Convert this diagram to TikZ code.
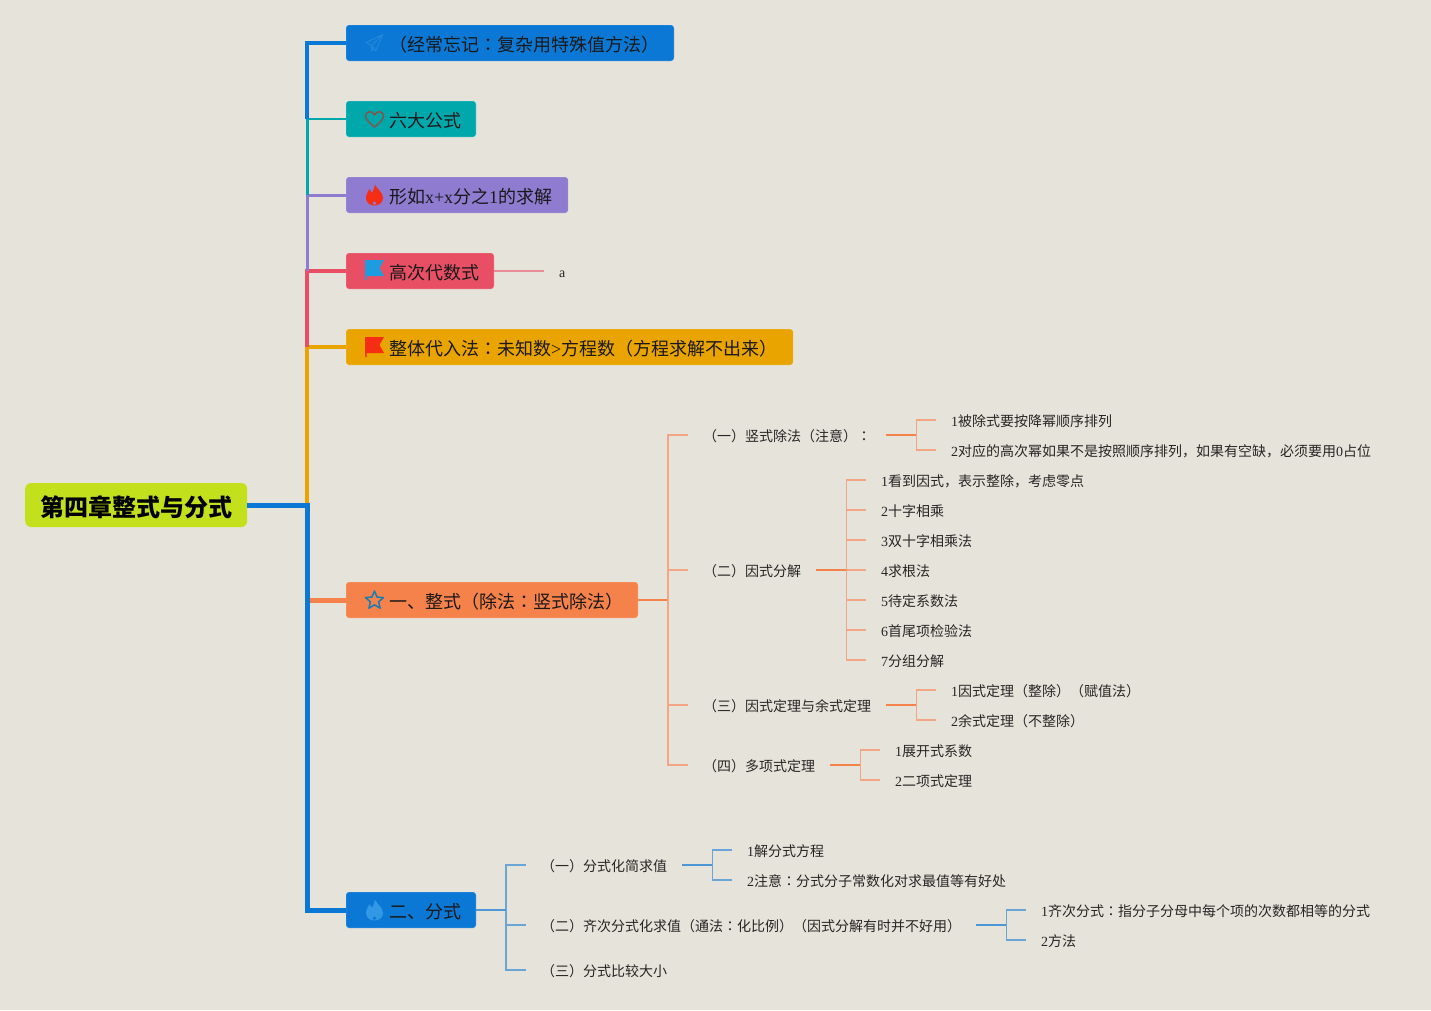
\documentclass[tikz,border=0pt]{standalone}
\usepackage{fontspec}
\setmainfont{Liberation Serif}
\newfontfamily\cjk{Noto Sans CJK SC}
\newfontfamily\cjkjp{Noto Sans CJK JP}
\usetikzlibrary{positioning, calc}
\definecolor{pagebg}{RGB}{230, 227, 218}
\definecolor{keylime}{RGB}{194, 224, 28}
\definecolor{keyblue}{RGB}{10, 120, 212}
\definecolor{keyteal}{RGB}{0, 168, 172}
\definecolor{keypurple}{RGB}{143, 123, 208}
\definecolor{keyred}{RGB}{232, 79, 101}
\definecolor{keyyellow}{RGB}{233, 164, 0}
\definecolor{keyorange}{RGB}{246, 130, 75}
\definecolor{twigorange}{RGB}{244, 165, 131}
\definecolor{twigblue}{RGB}{106, 165, 217}
\definecolor{twigred}{RGB}{232, 140, 150}
\definecolor{iconred}{RGB}{245, 45, 20}
\definecolor{iconblue}{RGB}{29, 156, 224}
\definecolor{iconpale}{RGB}{35, 135, 220}
\definecolor{iconsoft}{RGB}{50, 152, 230}
\definecolor{iconbrown}{RGB}{125, 90, 80}
\newcommand{\en}[1]{{\rmfamily #1}}
\newcommand{\zc}{{\cjkjp ：}}
\tikzset{
  planeicon/.pic={
    \draw[pic actions, line width=1pt, line join=round]
      (8.5,-8.5) -- (-8.5,-0.5) -- (-3,2.5) -- (8.5,-8.5) -- (1,8) -- (-3,2.5) -- (-3,8) -- (0,4.5);
  },
  hearticon/.pic={
    \draw[pic actions, line width=1.6pt]
      (0,8) .. controls (-4,4.5) and (-9,1) .. (-9,-3) .. controls (-9,-8) and (-2,-9) .. (0,-4)
      .. controls (2,-9) and (9,-8) .. (9,-3) .. controls (9,1) and (4,4.5) .. (0,8) -- cycle;
  },
  flameicon/.pic={
    \fill[pic actions, even odd rule]
      (0.5,-10.5) .. controls (2,-6) and (8.5,-3) .. (8.5,3) .. controls (8.5,7.5) and (4.5,10.5) .. (0,10.5)
      .. controls (-4.5,10.5) and (-8.5,7.5) .. (-8.5,3) .. controls (-8.5,-1) and (-6,-3) .. (-5,-6)
      .. controls (-3.5,-4.5) and (-3,-3.5) .. (-2.5,-2) .. controls (-1,-4.5) and (0,-7.5) .. (0.5,-10.5) -- cycle
      (0,6) .. controls (-1,7.5) and (-2.5,8) .. (-2,9) .. controls (-1.5,10) and (1.5,10) .. (2,9)
      .. controls (2.5,8) and (1,7.5) .. (0,6) -- cycle;
  },
  flagicon/.pic={
    \fill[pic actions]
      (-9.5,-10) -- (9.5,-10) -- (5,-2) -- (9.5,6) -- (-8,6) -- (-8,10) -- (-9.5,10) -- cycle;
  },
  staricon/.pic={
    \draw[pic actions, line width=1.5pt, line join=round]
      (-90:9.5) -- (-54:4.3) -- (-18:9.5) -- (18:4.3) -- (54:9.5) -- (90:4.3)
      -- (126:9.5) -- (162:4.3) -- (198:9.5) -- (234:4.3) -- cycle;
  }
}
\begin{document}
\begin{tikzpicture}[x=1pt, y=-1pt,
    topic/.style={anchor=west, rounded corners=3pt, inner xsep=15pt, inner ysep=0pt, minimum height=36pt,
      draw=white, draw opacity=.2, line width=.6pt, outer sep=0pt,
      text height=17pt, text depth=1pt, text=black!90, font=\cjk\fontsize{18}{18}\selectfont},
    leaf/.style={anchor=west, inner xsep=15pt, inner ysep=0pt, text height=13pt, text depth=1pt,
      text=black!85, font=\cjk\fontsize{14}{14}\selectfont},
    trunk/.style={line width=4pt},
    stem/.style={line width=1.5pt},
    twig/.style={line width=1.2pt}]
  \fill[pagebg] (0,0) rectangle (1431,1010);
  % Root and first level
  \node[anchor=west, fill=keylime, rounded corners=6pt, inner xsep=15pt, inner ysep=0pt, minimum height=44pt,
        text height=23pt, text depth=1pt, font=\fontsize{24}{24}\selectfont\cjk\bfseries] (root) at (25,505) {第四章整式与分式};
  \node[topic, fill=keyblue] (wangji) at (346,43) {\hspace*{28pt}（经常忘记\zc 复杂用特殊值方法）};
  \node[topic, fill=keyteal] (liuda) at (346,119) {\hspace*{28pt}六大公式};
  \node[topic, fill=keypurple] (xingru) at (346,195) {\hspace*{28pt}形如\en{x+x}分之\en{1}的求解\hspace*{1pt}};
  \node[topic, fill=keyred] (gaoci) at (346,271) {\hspace*{28pt}高次代数式};
  \node[topic, fill=keyyellow] (zhengti) at (346,347) {\hspace*{28pt}整体代入法\zc 未知数\en{>}方程数（方程求解不出来）\hspace*{1pt}};
  \node[topic, fill=keyorange] (zhengshi) at (346,600) {\hspace*{28pt}一、整式（除法\zc 竖式除法）};
  \node[topic, fill=keyblue] (fenshi) at (346,910) {\hspace*{28pt}二、分式};
  \pic[draw=iconpale] at (374.5,43) {planeicon};
  \pic[draw=iconbrown] at (374.5,119) {hearticon};
  \pic[fill=iconred] at (374.5,195) {flameicon};
  \pic[fill=iconblue] at (374.5,270) {flagicon};
  \pic[fill=iconred] at (374.5,347) {flagicon};
  \pic[draw=iconblue!80!black] at (374.5,600.5) {staricon};
  \pic[fill=iconsoft] at (374.5,910) {flameicon};
  \node[leaf, font=\rmfamily\fontsize{14}{14}\selectfont] (gaocia) at (544,271) {a};
  % Trunk, drawn from the lowest colour up
  \coordinate (trunk) at (307,505);
  \draw[trunk, keyorange, line width=5pt] (trunk |- zhengshi.west) -- (zhengshi.west);
  \draw[trunk, keyyellow] (trunk) |- (zhengti.west);
  \draw[trunk, keyred] (trunk |- zhengti.west) |- (gaoci.west);
  \draw[trunk, keypurple, line width=3pt] (trunk |- gaoci.west) |- (xingru.west);
  \draw[trunk, keyteal, line width=3pt] (trunk |- xingru.west) -- (trunk |- liuda.west);
  \draw[keyteal, line width=2pt] (trunk |- liuda.west) -- (liuda.west);
  \draw[trunk, keyblue] (trunk |- liuda.west) |- (wangji.west);
  \draw[trunk, keyblue, line width=5pt] (root.east) -- (trunk) |- (fenshi.west);
  \draw[twig, twigred] (gaoci.east) -- (gaocia.west);
  % Orange side: second level
  \node[leaf] (shushi) at (688,435) {（一）竖式除法（注意）\zc};
  \node[leaf] (yinshi) at (688,570) {（二）因式分解};
  \node[leaf] (dingli) at (688,705) {（三）因式定理与余式定理};
  \node[leaf] (duoxiang) at (688,765) {（四）多项式定理};
  \coordinate (zhengshispine) at ($(zhengshi.east)+(30,0)$);
  \draw[stem, keyorange] (zhengshi.east) -- (zhengshispine);
  \foreach \kid in {shushi, yinshi, dingli, duoxiang}
    \draw[twig, twigorange] (zhengshispine) |- (\kid.west);
  % Orange side: third level
  \node[leaf] (shushia) at (936,420) {\en{1}被除式要按降幂顺序排列};
  \node[leaf] (shushib) at (936,450) {\en{2}对应的高次幂如果不是按照顺序排列，如果有空缺，必须要用\en{0}占位};
  \node[leaf] (yinshia) at (866,480) {\en{1}看到因式，表示整除，考虑零点};
  \node[leaf] (yinshib) at (866,510) {\en{2}十字相乘};
  \node[leaf] (yinshic) at (866,540) {\en{3}双十字相乘法};
  \node[leaf] (yinshid) at (866,570) {\en{4}求根法};
  \node[leaf] (yinshie) at (866,600) {\en{5}待定系数法};
  \node[leaf] (yinshif) at (866,630) {\en{6}首尾项检验法};
  \node[leaf] (yinshig) at (866,660) {\en{7}分组分解};
  \node[leaf] (dinglia) at (936,690) {\en{1}因式定理（整除）（赋值法）};
  \node[leaf] (dinglib) at (936,720) {\en{2}余式定理（不整除）};
  \node[leaf] (duoxianga) at (880,750) {\en{1}展开式系数};
  \node[leaf] (duoxiangb) at (880,780) {\en{2}二项式定理};
  \foreach \up/\kids in {shushi/{shushia, shushib},
      yinshi/{yinshia, yinshib, yinshic, yinshid, yinshie, yinshif, yinshig},
      dingli/{dinglia, dinglib}, duoxiang/{duoxianga, duoxiangb}} {
    \coordinate (\up spine) at ($(\up.east)+(30,0)$);
    \foreach \kid in \kids
      \draw[twig, twigorange] (\up spine) |- (\kid.west);
    \draw[stem, keyorange] (\up.east) -- (\up spine);
  }
  % Blue side
  \node[leaf] (huajian) at (526,865) {（一）分式化简求值};
  \node[leaf] (qici) at (526,925) {（二）齐次分式化求值（通法\zc 化比例）（因式分解有时并不好用）};
  \node[leaf] (bijiao) at (526,970) {（三）分式比较大小};
  \node[leaf] (huajiana) at (732,850) {\en{1}解分式方程};
  \node[leaf] (huajianb) at (732,880) {\en{2}注意\zc 分式分子常数化对求最值等有好处};
  \node[leaf] (qicia) at (1026,910) {\en{1}齐次分式\zc 指分子分母中每个项的次数都相等的分式};
  \node[leaf] (qicib) at (1026,940) {\en{2}方法};
  \foreach \up/\kids in {fenshi/{huajian, qici, bijiao}, huajian/{huajiana, huajianb}, qici/{qicia, qicib}} {
    \coordinate (\up spine) at ($(\up.east)+(30,0)$);
    \foreach \kid in \kids
      \draw[twig, twigblue] (\up spine) |- (\kid.west);
    \draw[stem, twigblue!70!keyblue] (\up.east) -- (\up spine);
  }
\end{tikzpicture}
\end{document}
